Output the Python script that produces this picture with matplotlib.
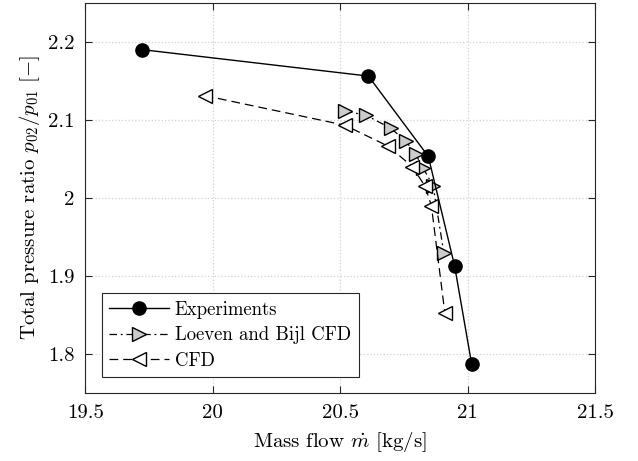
import numpy as np
import matplotlib
matplotlib.use("Agg")
import matplotlib.pyplot as plt

plt.rcParams['font.family'] = 'serif'
plt.rcParams['font.serif'] = ['cmr10']
plt.rcParams['mathtext.fontset'] = 'cm'
plt.rcParams['axes.unicode_minus'] = False
plt.rcParams['axes.formatter.use_mathtext'] = True

# Experiments
exp_m = [19.72, 20.61, 20.845, 20.948, 21.015]
exp_pr = [2.190, 2.156, 2.053, 1.913, 1.787]

# Loeven and Bijl CFD
lb_m = [20.518, 20.60, 20.698, 20.756, 20.795, 20.825, 20.864, 20.906]
lb_pr = [2.111, 2.106, 2.089, 2.073, 2.056, 2.038, 2.015, 1.929]

# CFD
cfd_m = [19.967, 20.518, 20.688, 20.782, 20.832, 20.857, 20.91]
cfd_pr = [2.131, 2.093, 2.066, 2.040, 2.015, 1.990, 1.852]

fig = plt.figure(figsize=(6.38, 4.61), dpi=100)
ax = fig.add_axes([0.134, 0.148, 0.799, 0.846])

ax.plot(exp_m, exp_pr, '-', color='k', lw=1.0, marker='o', ms=9.5,
        mfc='k', mec='k', label='Experiments', zorder=4)
ax.plot(lb_m, lb_pr, color='k', lw=0.9, dashes=(6, 3, 1.5, 3), marker='>', ms=10,
        mfc=(0.8, 0.8, 0.8), mec='k', mew=1.0, label='Loeven and Bijl CFD', zorder=3)
ax.plot(cfd_m, cfd_pr, color='k', lw=0.9, dashes=(7, 4), marker='<', ms=10,
        mfc='white', mec='k', mew=1.0, label='CFD', zorder=3)

ax.set_xlim(19.5, 21.5)
ax.set_ylim(1.75, 2.25)
ax.set_xticks([19.5, 20, 20.5, 21, 21.5])
ax.set_xticklabels(['19.5', '20', '20.5', '21', '21.5'])
ax.set_yticks([1.8, 1.9, 2.0, 2.1, 2.2])
ax.set_yticklabels(['1.8', '1.9', '2', '2.1', '2.2'])

ax.grid(True, linestyle=':', color=(0.82, 0.82, 0.82), lw=0.9)
ax.tick_params(direction='in', length=5, width=0.8, top=True, right=True,
               labelsize=15, colors=(0.15, 0.15, 0.15), labelcolor='k', pad=8)
for s in ax.spines.values():
    s.set_color((0.15, 0.15, 0.15))
    s.set_linewidth(0.8)

ax.set_xlabel(r'Mass flow $\dot{m}$ [kg/s]', fontsize=15, labelpad=6)
ax.set_ylabel(r'Total pressure ratio $p_{02}/p_{01}$ [$-$]', fontsize=15)

leg = ax.legend(loc='lower left', bbox_to_anchor=(0.032, 0.04), borderaxespad=0,
                fontsize=13.5, handlelength=3.2, fancybox=False, framealpha=1,
                edgecolor=(0.15, 0.15, 0.15), borderpad=0.4, labelspacing=0.4,
                handletextpad=0.3)
leg.get_frame().set_linewidth(0.8)

fig.savefig('out.png', dpi=100)
